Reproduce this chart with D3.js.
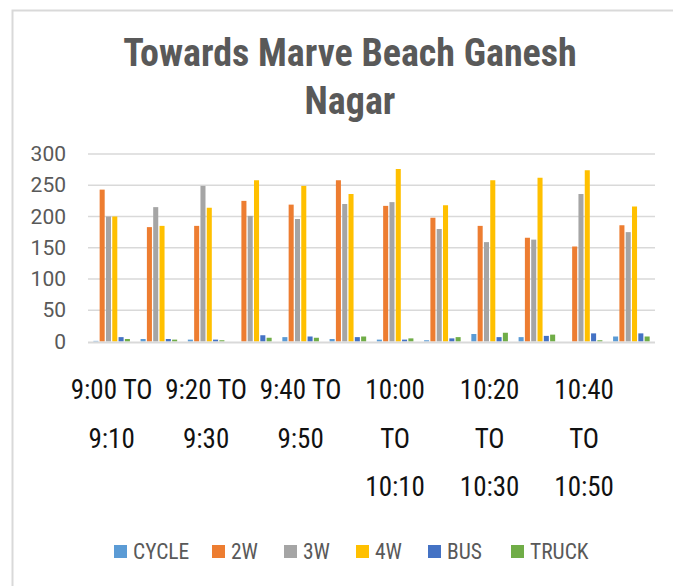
<!DOCTYPE html>
<html>
<head>
<meta charset="utf-8">
<script src="https://cdn.jsdelivr.net/npm/d3@7"></script>
<style>
  html, body { margin: 0; padding: 0; background: #fff; overflow: hidden; width: 673px; height: 586px; }
  svg { display: block; }
</style>
</head>
<body>
<svg id="chart" width="673" height="586"></svg>
<script>
// Vehicle counts per 10-minute interval, towards Marve Beach Ganesh Nagar
const intervals = [
  "9:00 TO 9:10", "9:10 TO 9:20", "9:20 TO 9:30", "9:30 TO 9:40",
  "9:40 TO 9:50", "9:50 TO 10:00", "10:00 TO 10:10", "10:10 TO 10:20",
  "10:20 TO 10:30", "10:30 TO 10:40", "10:40 TO 10:50", "10:50 TO 11:00"
];
const vehicleTypes = ["CYCLE", "2W", "3W", "4W", "BUS", "TRUCK"];
const typeColors = ["#5b9bd5", "#ed7d31", "#a5a5a5", "#ffc000", "#4472c4", "#70ad47"];

const cycle = [1, 4, 3, 0, 7, 4, 3, 2, 12, 7, 0, 8];
const twoWheeler = [243, 183, 185, 225, 219, 258, 217, 198, 185, 166, 152, 186];
const threeWheeler = [200, 215, 249, 201, 196, 220, 223, 180, 159, 163, 236, 175];
const fourWheeler = [200, 185, 214, 258, 249, 236, 276, 218, 258, 262, 274, 216];
const bus = [7, 4, 3, 10, 8, 7, 3, 5, 7, 9, 13, 13];
const truck = [4, 3, 2, 6, 6, 8, 5, 7, 14, 11, 2, 8];

const yTicks = [0, 50, 100, 150, 200, 250, 300];
const titleLines = ["Towards Marve Beach Ganesh", "Nagar"];

const seriesValues = [cycle, twoWheeler, threeWheeler, fourWheeler, bus, truck];

const svg = d3.select("#chart");
const narrow = "'Liberation Sans Narrow', 'Arial Narrow', 'Roboto Condensed', sans-serif";

// White page behind everything
svg.append("rect")
  .attr("x", 0).attr("y", 0)
  .attr("width", 673).attr("height", 586)
  .attr("fill", "#fff");

// Chart frame (open to the right and bottom of the page)
svg.append("path")
  .attr("d", "M12.5,600 V10.5 H690")
  .attr("fill", "none")
  .attr("stroke", "#d9d9d9").attr("stroke-width", 2);

// Title
const title = svg.append("text")
  .attr("text-anchor", "middle")
  .attr("font-family", narrow)
  .attr("font-weight", "bold")
  .attr("font-size", 38)
  .attr("fill", "#595959");
titleLines.forEach((line, i) => {
  title.append("tspan").attr("x", 350).attr("y", 66 + i * 48).text(line);
});

// Scales
const plot = { left: 88, right: 655, top: 154, bottom: 341.5 };
const x0 = d3.scaleBand().domain(intervals)
  .range([plot.left, plot.right]).paddingInner(0.226).paddingOuter(0.113);
const x1 = d3.scaleBand().domain(vehicleTypes)
  .range([0, x0.bandwidth()]).paddingInner(0.2);
const y = d3.scaleLinear().domain([0, 300]).range([plot.bottom, plot.top]);
const color = d3.scaleOrdinal().domain(vehicleTypes).range(typeColors);

// Gridlines
svg.append("g")
  .selectAll("line")
  .data(yTicks.filter(t => t > 0))
  .join("line")
  .attr("x1", plot.left).attr("x2", plot.right)
  .attr("y1", d => y(d)).attr("y2", d => y(d))
  .attr("stroke", "#d9d9d9").attr("stroke-width", 1.5);

// Y axis labels
const yAxis = d3.axisLeft(y).tickValues(yTicks).tickSize(0).tickPadding(0);
const yg = svg.append("g").attr("transform", "translate(66,0)").call(yAxis);
yg.select(".domain").remove();
yg.selectAll("text")
  .attr("font-family", "Roboto, sans-serif")
  .attr("font-size", 21)
  .attr("fill", "#595959");

// Bars
const rows = intervals.map((iv, i) => ({
  interval: iv,
  values: vehicleTypes.map((t, k) => ({ type: t, value: seriesValues[k][i] }))
}));
svg.append("g")
  .selectAll("g")
  .data(rows)
  .join("g")
  .attr("transform", d => `translate(${x0(d.interval)},0)`)
  .selectAll("rect")
  .data(d => d.values)
  .join("rect")
  .attr("x", d => x1(d.type))
  .attr("width", x1.bandwidth())
  .attr("y", d => y(d.value))
  .attr("height", d => y(0) - y(d.value))
  .attr("fill", d => color(d.type));

// Baseline
svg.append("line")
  .attr("x1", plot.left).attr("x2", plot.right)
  .attr("y1", y(0) + 1).attr("y2", y(0) + 1)
  .attr("stroke", "#d9d9d9").attr("stroke-width", 2);

// Category labels: every second interval, wrapped to the space of two bands
const labelWidth = 2 * x0.step() - 8;
const xl = svg.append("g")
  .attr("font-family", narrow)
  .attr("font-size", 27)
  .attr("fill", "#111");
intervals.forEach((iv, i) => {
  if (i % 2 !== 0) return;
  const cx = x0(iv) + x0.bandwidth() / 2;
  const t = xl.append("text").attr("text-anchor", "middle");
  const words = iv.split(" ");
  const lines = [];
  let cur = [];
  const probe = t.append("tspan").attr("x", cx);
  words.forEach(w => {
    const test = cur.concat([w]).join(" ");
    probe.text(test);
    if (cur.length && probe.node().getComputedTextLength() > labelWidth) {
      lines.push(cur.join(" "));
      cur = [w];
    } else {
      cur.push(w);
    }
  });
  lines.push(cur.join(" "));
  probe.remove();
  lines.forEach((ln, j) => {
    t.append("tspan").attr("x", cx).attr("y", 399 + j * 48.5).text(ln);
  });
});

// Legend
const legendX = [114, 212, 284, 356, 428, 511];
const lg = svg.append("g")
  .attr("font-family", narrow)
  .attr("font-size", 21.5)
  .attr("fill", "#595959");
vehicleTypes.forEach((t, i) => {
  lg.append("rect")
    .attr("x", legendX[i]).attr("y", 545)
    .attr("width", 13).attr("height", 13)
    .attr("fill", color(t));
  lg.append("text")
    .attr("x", legendX[i] + 19).attr("y", 559)
    .text(t);
});
</script>
</body>
</html>
